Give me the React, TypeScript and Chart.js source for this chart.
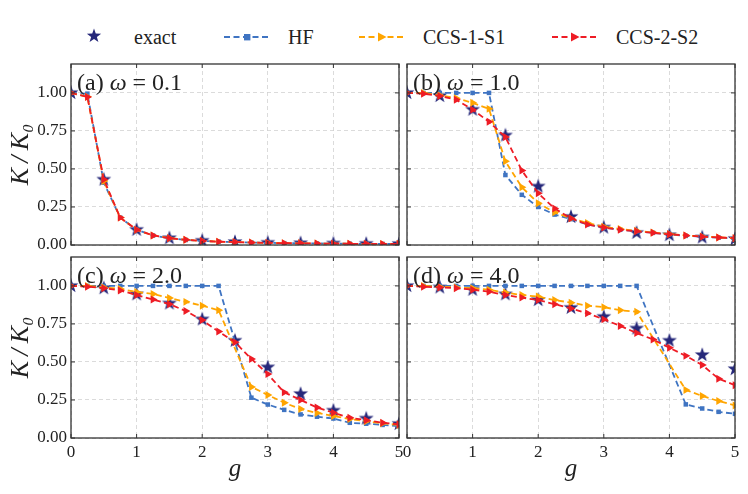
import { useEffect, useRef } from 'react';
import { Chart, registerables } from 'chart.js';

Chart.register(...registerables);

const FONT = '"Liberation Serif", "DejaVu Serif", serif';
const INK = '#222222';

// g grid used by HF / CCS curves, and the coarser grid of the exact result
const gGrid = [0, 0.25, 0.5, 0.75, 1, 1.25, 1.5, 1.75, 2, 2.25, 2.5, 2.75, 3, 3.25, 3.5, 3.75, 4, 4.25, 4.5, 4.75, 5];
const gExact = [0, 0.5, 1, 1.5, 2, 2.5, 3, 3.5, 4, 4.5, 5];

const xTicks = [0, 1, 2, 3, 4, 5];
const yTicks = [0, 0.25, 0.5, 0.75, 1.0];

const seriesNames = ['exact', 'HF', 'CCS-1-S1', 'CCS-2-S2'];
const panelTags = ['(a)', '(b)', '(c)', '(d)'];
const omegas = ['0.1', '1.0', '2.0', '4.0'];

// (a) omega = 0.1
const exactA = [1.0, 0.43, 0.1, 0.045, 0.028, 0.02, 0.015, 0.012, 0.01, 0.008, 0.007];
const hfA = [1.0, 0.995, 0.41, 0.18, 0.1, 0.062, 0.044, 0.033, 0.027, 0.022, 0.019, 0.016, 0.014, 0.012, 0.011, 0.01, 0.009, 0.008, 0.0075, 0.007, 0.0065];
const ccs1A = [1.0, 0.975, 0.42, 0.18, 0.1, 0.063, 0.045, 0.034, 0.027, 0.022, 0.019, 0.016, 0.014, 0.012, 0.011, 0.01, 0.009, 0.008, 0.0075, 0.007, 0.0065];
const ccs2A = [1.0, 0.973, 0.43, 0.18, 0.1, 0.063, 0.045, 0.034, 0.027, 0.022, 0.019, 0.016, 0.014, 0.012, 0.011, 0.01, 0.009, 0.008, 0.0075, 0.007, 0.0065];

// (b) omega = 1.0
const exactB = [1.0, 0.98, 0.89, 0.72, 0.385, 0.185, 0.115, 0.08, 0.065, 0.05, 0.04];
const hfB = [1.0, 1.0, 1.0, 1.0, 1.0, 1.0, 0.46, 0.33, 0.25, 0.2, 0.17, 0.135, 0.115, 0.1, 0.09, 0.08, 0.07, 0.06, 0.055, 0.048, 0.042];
const ccs1B = [1.0, 1.0, 0.985, 0.965, 0.935, 0.895, 0.55, 0.38, 0.275, 0.215, 0.175, 0.145, 0.12, 0.105, 0.093, 0.082, 0.072, 0.063, 0.056, 0.05, 0.045];
const ccs2B = [1.0, 0.995, 0.98, 0.955, 0.89, 0.81, 0.71, 0.49, 0.34, 0.24, 0.175, 0.135, 0.115, 0.1, 0.09, 0.08, 0.07, 0.063, 0.055, 0.05, 0.045];

// (c) omega = 2.0
const exactC = [1.0, 0.985, 0.945, 0.885, 0.78, 0.64, 0.465, 0.29, 0.18, 0.128, 0.093];
const hfC = [1.0, 1.0, 1.0, 1.0, 1.0, 1.0, 1.0, 1.0, 1.0, 1.0, null, 0.265, 0.22, 0.185, 0.155, 0.14, 0.128, 0.1, 0.094, 0.086, 0.078];
const ccs1C = [1.0, 1.0, 0.99, 0.98, 0.96, 0.947, 0.92, 0.895, 0.87, 0.84, null, 0.336, 0.283, 0.232, 0.19, 0.165, 0.145, 0.125, 0.11, 0.097, 0.085];
const ccs2C = [1.0, 0.995, 0.985, 0.97, 0.94, 0.91, 0.88, 0.835, 0.775, 0.7, 0.63, 0.52, 0.42, 0.3, 0.25, 0.2, 0.166, 0.133, 0.117, 0.1, 0.09];

// (d) omega = 4.0
const exactD = [1.0, 0.99, 0.975, 0.945, 0.907, 0.856, 0.797, 0.72, 0.64, 0.546, 0.453];
const hfD = [1.0, 1.0, 1.0, 1.0, 1.0, 1.0, 1.0, 1.0, 1.0, 1.0, 1.0, 1.0, 1.0, 1.0, 1.0, null, null, 0.221, 0.194, 0.172, 0.159];
const ccs1D = [1.0, 1.0, 0.995, 0.99, 0.985, 0.975, 0.956, 0.94, 0.93, 0.907, 0.89, 0.87, 0.86, 0.84, 0.83, null, null, 0.316, 0.276, 0.243, 0.214];
const ccs2D = [1.0, 0.995, 0.99, 0.985, 0.975, 0.962, 0.94, 0.923, 0.907, 0.88, 0.852, 0.82, 0.78, 0.737, 0.69, 0.648, 0.593, 0.54, 0.48, 0.39, 0.347];

const panelData = [
  [exactA, hfA, ccs1A, ccs2A],
  [exactB, hfB, ccs1B, ccs2B],
  [exactC, hfC, ccs1C, ccs2C],
  [exactD, hfD, ccs1D, ccs2D],
];

const COLORS = ['#26287a', '#3f74c2', '#ffa500', '#ee1c25'];

// where each panel's plot area sits on the 748x494 page
const panelBoxes = [
  { left: 71, top: 64, right: 399, bottom: 245 },
  { left: 407, top: 64, right: 735, bottom: 245 },
  { left: 71, top: 257, right: 399, bottom: 438 },
  { left: 407, top: 257, right: 735, bottom: 438 },
];

function makeStar(r: number, color: string) {
  const c = document.createElement('canvas');
  const s = Math.ceil(r * 2 + 2);
  c.width = s;
  c.height = s;
  const ctx = c.getContext('2d')!;
  ctx.fillStyle = color;
  ctx.beginPath();
  for (let i = 0; i < 10; i++) {
    const rad = i % 2 === 0 ? r : r * 0.4;
    const a = -Math.PI / 2 + (i * Math.PI) / 5;
    ctx.lineTo(s / 2 + rad * Math.cos(a), s / 2 + rad * Math.sin(a));
  }
  ctx.closePath();
  ctx.fill();
  return c;
}

const framePlugin = {
  id: 'frame',
  afterDraw(chart: any, _args: any, opts: any) {
    const { ctx, chartArea: a, scales } = chart;
    ctx.save();
    ctx.strokeStyle = '#333333';
    ctx.lineWidth = 1;
    ctx.beginPath();
    xTicks.forEach((v) => {
      const px = scales.x.getPixelForValue(v);
      ctx.moveTo(px, a.bottom);
      ctx.lineTo(px, a.bottom - 4);
      ctx.moveTo(px, a.top);
      ctx.lineTo(px, a.top + 4);
    });
    yTicks.forEach((v) => {
      const py = scales.y.getPixelForValue(v);
      ctx.moveTo(a.left, py);
      ctx.lineTo(a.left + 4, py);
      ctx.moveTo(a.right, py);
      ctx.lineTo(a.right - 4, py);
    });
    ctx.stroke();
    ctx.lineWidth = 1.3;
    ctx.strokeRect(a.left, a.top, a.right - a.left, a.bottom - a.top);

    // panel tag, e.g. "(a) ω = 0.1"
    ctx.fillStyle = INK;
    ctx.textBaseline = 'alphabetic';
    ctx.textAlign = 'left';
    let x = a.left + 6;
    const y = a.top + 26;
    ctx.font = `24px ${FONT}`;
    const first = opts.tag + ' ';
    ctx.fillText(first, x, y);
    x += ctx.measureText(first).width;
    ctx.font = `italic 24px ${FONT}`;
    ctx.fillText('ω', x, y);
    x += ctx.measureText('ω').width;
    ctx.font = `24px ${FONT}`;
    ctx.fillText(' = ' + opts.omega, x, y);
    ctx.restore();
  },
};

function Panel({ index }: { index: number }) {
  const ref = useRef<HTMLCanvasElement | null>(null);

  useEffect(() => {
    if (!ref.current) return;
    const box = panelBoxes[index];
    const showX = index >= 2;
    const showY = index % 2 === 0;
    const yAxisW = showY ? 66 : 0;
    const xAxisH = showX ? 56 : 0;
    const [exact, hf, ccs1, ccs2] = panelData[index];
    const star = makeStar(7.8, COLORS[0]);

    const lineSet = (label: string, values: (number | null)[], color: string, style: string, radius: number, rotation: number, order: number) => ({
      label,
      data: gGrid.map((g, i) => ({ x: g, y: values[i] })),
      borderColor: color,
      backgroundColor: color,
      borderWidth: 1.8,
      borderDash: [6, 3.5],
      pointStyle: style,
      pointRadius: radius,
      pointRotation: rotation,
      pointBackgroundColor: color,
      pointBorderWidth: 0,
      spanGaps: true,
      tension: 0,
      clip: 0,
      order,
    });

    const chart = new Chart(ref.current, {
      type: 'line',
      data: {
        datasets: [
          {
            label: seriesNames[0],
            data: gExact.map((g, i) => ({ x: g, y: exact[i] })),
            showLine: false,
            pointStyle: star,
            pointRadius: 7.8,
            borderColor: COLORS[0],
            backgroundColor: COLORS[0],
            clip: 0,
            order: 4,
          },
          lineSet(seriesNames[1], hf, COLORS[1], 'rect', 3.2, 0, 3),
          lineSet(seriesNames[2], ccs1, COLORS[2], 'triangle', 4.6, 90, 2),
          lineSet(seriesNames[3], ccs2, COLORS[3], 'triangle', 4.6, 90, 1),
        ] as any,
      },
      options: {
        animation: false,
        responsive: true,
        maintainAspectRatio: false,
        events: [],
        layout: {
          padding: {
            left: box.left - yAxisW,
            top: box.top,
            right: 748 - box.right,
            bottom: 494 - box.bottom - xAxisH,
          },
        },
        plugins: {
          legend: { display: false },
          tooltip: { enabled: false },
          frame: { tag: panelTags[index], omega: omegas[index] },
        } as any,
        scales: {
          x: {
            type: 'linear',
            min: 0,
            max: 5,
            afterBuildTicks: (s: any) => {
              s.ticks = xTicks.map((v) => ({ value: v }));
            },
            afterFit: (s: any) => {
              s.height = xAxisH;
            },
            grid: { color: '#d2d2d2', lineWidth: 0.8, drawTicks: false },
            border: { display: false, dash: [4, 3] },
            ticks: {
              display: showX,
              padding: 4,
              color: INK,
              font: { family: FONT, size: 17 },
              callback: (v: any) => String(v),
            },
            title: {
              display: showX,
              text: 'g',
              color: INK,
              font: { family: FONT, size: 25, style: 'italic' },
              padding: { top: 0, bottom: 10 },
            },
          },
          y: {
            type: 'linear',
            min: 0,
            max: 1.19,
            afterBuildTicks: (s: any) => {
              s.ticks = yTicks.map((v) => ({ value: v }));
            },
            afterFit: (s: any) => {
              s.width = yAxisW;
            },
            grid: { color: '#d2d2d2', lineWidth: 0.8, drawTicks: false },
            border: { display: false, dash: [4, 3] },
            ticks: {
              display: showY,
              padding: 4,
              color: INK,
              font: { family: FONT, size: 17 },
              callback: (v: any) => Number(v).toFixed(2),
            },
            title: {
              display: showY,
              text: 'K\u2009/\u2009K\u2080',
              color: INK,
              font: { family: FONT, size: 26, style: 'italic' },
              padding: { top: 0.7, bottom: 0 },
            },
          },
        },
      },
      plugins: [framePlugin as any],
    });

    return () => {
      chart.destroy();
    };
  }, [index]);

  return (
    <div style={{ position: 'absolute', left: 0, top: 0, width: 748, height: 494 }}>
      <canvas ref={ref}></canvas>
    </div>
  );
}

function LegendSymbol({ kind, color }: { kind: string; color: string }) {
  if (kind === 'star') {
    const pts: string[] = [];
    for (let i = 0; i < 10; i++) {
      const rad = i % 2 === 0 ? 7.5 : 3;
      const a = -Math.PI / 2 + (i * Math.PI) / 5;
      pts.push(`${8 + rad * Math.cos(a)},${8 + rad * Math.sin(a)}`);
    }
    return (
      <svg width={16} height={16} style={{ display: 'block' }}>
        <polygon points={pts.join(' ')} fill={color} />
      </svg>
    );
  }
  return (
    <svg width={46} height={14} style={{ display: 'block' }}>
      <line x1={0} y1={7} x2={46} y2={7} stroke={color} strokeWidth={1.8} strokeDasharray="6 3.5" />
      {kind === 'rect' ? (
        <rect x={20} y={4} width={6.4} height={6.4} fill={color} />
      ) : (
        <polygon points="19,2.5 27.5,7 19,11.5" fill={color} />
      )}
    </svg>
  );
}

const legendItems = [
  { kind: 'star', symX: 86, symY: 28, textX: 134 },
  { kind: 'rect', symX: 224, symY: 30, textX: 288 },
  { kind: 'tri', symX: 359, symY: 30, textX: 423 },
  { kind: 'tri', symX: 552, symY: 30, textX: 616 },
];

export default function App() {
  return (
    <div
      style={{
        position: 'absolute',
        left: 0,
        top: 0,
        width: 748,
        height: 494,
        background: '#ffffff',
        overflow: 'hidden',
        fontFamily: FONT,
      }}
    >
      {legendItems.map((it, i) => (
        <div key={i}>
          <div style={{ position: 'absolute', left: it.symX, top: it.symY }}>
            <LegendSymbol kind={it.kind} color={COLORS[i]} />
          </div>
          <div
            style={{
              position: 'absolute',
              left: it.textX,
              top: 27,
              fontSize: 20,
              lineHeight: '20px',
              color: INK,
              whiteSpace: 'nowrap',
            }}
          >
            {seriesNames[i]}
          </div>
        </div>
      ))}
      {[0, 1, 2, 3].map((i) => (
        <Panel key={i} index={i} />
      ))}
    </div>
  );
}
